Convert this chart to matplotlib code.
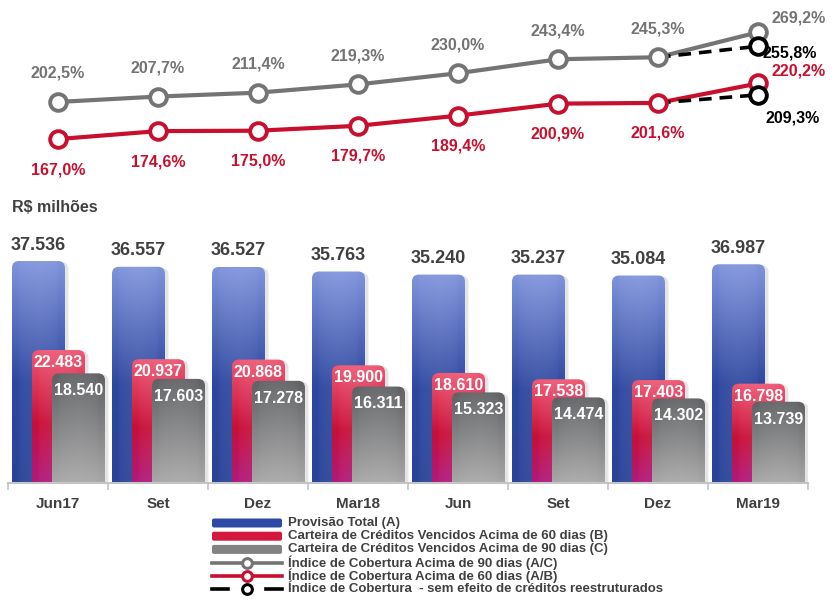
import numpy as np
import matplotlib
matplotlib.use("Agg")
import matplotlib.pyplot as plt
from matplotlib.colors import LinearSegmentedColormap
from matplotlib.patches import FancyBboxPatch
from matplotlib.lines import Line2D

plt.rcParams['font.family'] = ['Liberation Sans', 'DejaVu Sans']
plt.rcParams['font.weight'] = 'bold'

# Dados (R$ milhões e índices em %)
categorias = ['Jun17', 'Set', 'Dez', 'Mar18', 'Jun', 'Set', 'Dez', 'Mar19']
provisao = [37536, 36557, 36527, 35763, 35240, 35237, 35084, 36987]
vencidos_60 = [22483, 20937, 20868, 19900, 18610, 17538, 17403, 16798]
vencidos_90 = [18540, 17603, 17278, 16311, 15323, 14474, 14302, 13739]
cobertura_90 = [202.5, 207.7, 211.4, 219.3, 230.0, 243.4, 245.3, 269.2]
cobertura_60 = [167.0, 174.6, 175.0, 179.7, 189.4, 200.9, 201.6, 220.2]
# sem efeito de créditos reestruturados (Dez -> Mar19)
sem_reestr_idx = [6, 7]
sem_reestr_90 = [245.3, 255.8]
sem_reestr_60 = [201.6, 209.3]

TXT = '#404040'
CINZA = '#747474'
VERMELHO = '#c8102e'

cmap_azul = LinearSegmentedColormap.from_list('azul', [(0, '#2a4398'), (0.45, '#2e479f'), (1, '#8094dc')])
cmap_verm = LinearSegmentedColormap.from_list('verm', [(0, '#b01a7c'), (0.45, '#c80f38'), (1, '#ee5873')])
cmap_cinza = LinearSegmentedColormap.from_list('cinza', [(0, '#a8a8a8'), (1, '#5f6063')])

W, H = 835, 601
fig = plt.figure(figsize=(W / 100, H / 100), dpi=100)


def fx(px):
    return px / W


def fy(px):
    return 1 - px / H


# --- barras ---
YMAX = 47850
ax = fig.add_axes([fx(8), fy(483), fx(800), 283 / H])
ax.set_xlim(-0.5, 7.5)
ax.set_ylim(0, YMAX)
asp = (YMAX / 283) / (8 / 800)


def barra(xc, w, h, cmap, z):
    x0 = xc - w / 2
    r = 0.07
    ry = r * asp
    # sombra
    sh = FancyBboxPatch((x0 + 0.035, -ry), w, h + ry - 0.01 * asp,
                        boxstyle=f"round,pad=0,rounding_size={r}", mutation_aspect=asp,
                        fc='black', ec='none', alpha=0.10, zorder=z - 0.5)
    ax.add_patch(sh)
    clip = FancyBboxPatch((x0, -ry), w, h + ry,
                          boxstyle=f"round,pad=0,rounding_size={r}", mutation_aspect=asp,
                          fc='none', ec='none', zorder=z)
    ax.add_patch(clip)
    v = np.linspace(1, 0, 256)
    img = cmap(v)[:, None, :].repeat(64, axis=1)
    u = np.linspace(0, 1, 64)
    brilho = 0.07 * np.clip(1 - np.abs(u - 0.5) / 0.38, 0, 1) ** 0.3
    img[:, :, :3] = img[:, :, :3] + (1 - img[:, :, :3]) * brilho[None, :, None]
    im = ax.imshow(img, extent=(x0, x0 + w, 0, h), aspect='auto', origin='upper',
                   zorder=z, interpolation='bilinear')
    im.set_clip_path(clip)


x = np.arange(len(categorias))
bw = 0.53
for i in x:
    barra(i - 0.195, bw, provisao[i], cmap_azul, 2)
    barra(i + 0.005, bw, vencidos_60[i], cmap_verm, 3)
    barra(i + 0.205, bw, vencidos_90[i], cmap_cinza, 4)

    ax.annotate(f"{provisao[i]:,}".replace(',', '.'), (i - 0.195, provisao[i]),
                xytext=(0, 11.5), textcoords='offset points', ha='center', va='center',
                fontsize=13, color=TXT, fontweight='bold', zorder=6)
    ax.annotate(f"{vencidos_60[i]:,}".replace(',', '.'), (i + 0.005, vencidos_60[i]),
                xytext=(0, -9), textcoords='offset points', ha='center', va='center',
                fontsize=11.5, color='white', fontweight='bold', zorder=6)
    ax.annotate(f"{vencidos_90[i]:,}".replace(',', '.'), (i + 0.205, vencidos_90[i]),
                xytext=(0, -12.5), textcoords='offset points', ha='center', va='center',
                fontsize=11.5, color='white', fontweight='bold', zorder=6)

for s in ['top', 'right', 'left']:
    ax.spines[s].set_visible(False)
ax.spines['bottom'].set_color('#c4c4c4')
ax.spines['bottom'].set_linewidth(1.5)
ax.spines['bottom'].set_zorder(7)
ax.set_yticks([])
ax.set_xticks(x)
ax.set_xticklabels(categorias, fontsize=11, color=TXT, fontweight='bold')
ax.tick_params(axis='x', which='major', length=0, pad=10)
ax.set_xticks(np.arange(-0.5, 8, 1), minor=True)
ax.tick_params(axis='x', which='minor', length=5, width=1.2, color='#c4c4c4')

fig.text(fx(12), fy(208), 'R$ milhões', fontsize=11.5, color=TXT, fontweight='bold', va='center')

# --- índices de cobertura ---
axl = fig.add_axes([fx(8), fy(175), fx(800), 175 / H])
axl.set_xlim(-0.5, 7.5)
axl.set_ylim(132.6, 300.1)
axl.axis('off')

mk = dict(marker='o', markersize=12, markerfacecolor='white', markeredgewidth=2.8)
axl.plot(x, cobertura_90, color=CINZA, lw=3, zorder=2, solid_capstyle='round')
axl.plot(x, cobertura_60, color=VERMELHO, lw=3, zorder=2, solid_capstyle='round')
axl.plot(sem_reestr_idx, sem_reestr_90, color='black', lw=2.6, ls=(0, (3.5, 2.2)), zorder=3)
axl.plot(sem_reestr_idx, sem_reestr_60, color='black', lw=2.6, ls=(0, (3.5, 2.2)), zorder=3)
axl.plot(x, cobertura_90, ls='none', markeredgecolor=CINZA, zorder=4, **mk)
axl.plot(x, cobertura_60, ls='none', markeredgecolor=VERMELHO, zorder=4, **mk)
axl.plot(sem_reestr_idx[1:], sem_reestr_90[1:], ls='none', markeredgecolor='black', zorder=5, **mk)
axl.plot(sem_reestr_idx[1:], sem_reestr_60[1:], ls='none', markeredgecolor='black', zorder=5, **mk)


def pct(v):
    return f"{v:.1f}".replace('.', ',') + '%'


for i in x[:-1]:
    axl.annotate(pct(cobertura_90[i]), (i, cobertura_90[i]), xytext=(0, 20.5),
                 textcoords='offset points', ha='center', va='center',
                 fontsize=11.5, color=CINZA, fontweight='bold')
    axl.annotate(pct(cobertura_60[i]), (i, cobertura_60[i]), xytext=(0, -22),
                 textcoords='offset points', ha='center', va='center',
                 fontsize=11.5, color=VERMELHO, fontweight='bold')

axl.annotate(pct(cobertura_90[-1]), (7, cobertura_90[-1]), xytext=(29, 10.5),
             textcoords='offset points', ha='center', va='center',
             fontsize=11.5, color=CINZA, fontweight='bold', annotation_clip=False)
axl.annotate(pct(sem_reestr_90[-1]), (7, sem_reestr_90[-1]), xytext=(23, -5),
             textcoords='offset points', ha='center', va='center',
             fontsize=11.5, color='black', fontweight='bold', annotation_clip=False)
axl.annotate(pct(cobertura_60[-1]), (7, cobertura_60[-1]), xytext=(29, 9),
             textcoords='offset points', ha='center', va='center',
             fontsize=11.5, color=VERMELHO, fontweight='bold', annotation_clip=False)
axl.annotate(pct(sem_reestr_60[-1]), (7, sem_reestr_60[-1]), xytext=(25, -17),
             textcoords='offset points', ha='center', va='center',
             fontsize=11.5, color='black', fontweight='bold', annotation_clip=False)

# --- legenda ---
axg = fig.add_axes([0, 0, 1, 1], facecolor='none')
axg.set_xlim(0, W)
axg.set_ylim(H, 0)
axg.axis('off')

itens = [
    ('Provisão Total (A)', 'barra', '#2e4aa6'),
    ('Carteira de Créditos Vencidos Acima de 60 dias (B)', 'barra', '#d3173f'),
    ('Carteira de Créditos Vencidos Acima de 90 dias (C)', 'barra', '#828282'),
    ('Índice de Cobertura Acima de 90 dias (A/C)', 'linha', CINZA),
    ('Índice de Cobertura Acima de 60 dias (A/B)', 'linha', VERMELHO),
    ('Índice de Cobertura  - sem efeito de créditos reestruturados', 'trac', 'black'),
]
y0 = 523
for k, (rot, tipo, cor) in enumerate(itens):
    yy = y0 + k * 13.2
    if tipo == 'barra':
        axg.add_patch(FancyBboxPatch((212, yy - 4.5), 70, 9,
                                     boxstyle="round,pad=0,rounding_size=2",
                                     fc=cor, ec='none'))
    elif tipo == 'linha':
        axg.add_line(Line2D([212, 282], [yy, yy], color=cor, lw=2.6))
        axg.plot([247], [yy], marker='o', markersize=7, markerfacecolor='white',
                 markeredgecolor=cor, markeredgewidth=2.2)
    else:
        axg.add_line(Line2D([212, 228], [yy, yy], color=cor, lw=2.6))
        axg.add_line(Line2D([266, 282], [yy, yy], color=cor, lw=2.6))
        axg.plot([247], [yy], marker='o', markersize=7, markerfacecolor='white',
                 markeredgecolor=cor, markeredgewidth=2.2)
    axg.text(288, yy, rot, fontsize=9.5, color=TXT, fontweight='bold', va='center', ha='left')

fig.savefig('out.png', dpi=100)
